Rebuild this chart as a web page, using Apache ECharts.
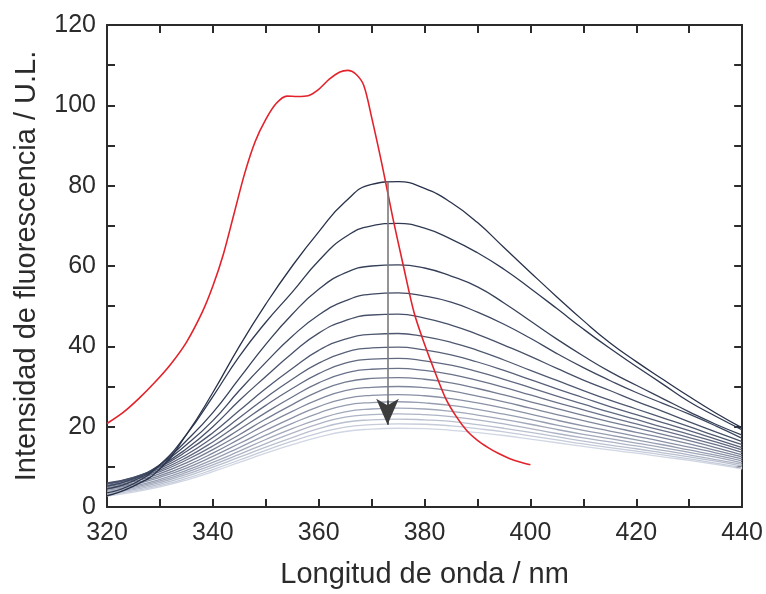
<!DOCTYPE html>
<html>
<head>
<meta charset="utf-8">
<script src="https://cdn.jsdelivr.net/npm/echarts@6/dist/echarts.min.js"></script>
<style>
  html, body { margin: 0; padding: 0; background: #fff; }
  #chart { width: 766px; height: 594px; }
</style>
</head>
<body>
<div id="chart"></div>
<script>
// longitudes de onda comunes a todos los espectros (nm)
const wavelengths = [320, 325, 330, 335, 340, 345, 350, 355, 360, 365, 370, 375, 380,
  385, 390, 395, 400, 405, 410, 415, 420, 425, 430, 435, 440]

// espectros de la valoracion, del mas intenso al menos intenso
const scan01 = [2.8, 5.2, 9.5, 18, 28.5, 40, 50.5, 60, 68.5, 76, 80.3, 81, 79.3, 75.8, 70.8, 64.6, 58.4, 52.3, 46.4, 40.9, 36.2, 31.8, 27.5, 23.4, 19.7]
const scan02 = [3.5, 5.8, 10.5, 18, 27.5, 37.5, 46, 53.5, 61.3, 67.2, 70, 70.6, 69.4, 66.7, 63.3, 59.2, 54.4, 49.4, 44.3, 39.5, 35, 30.6, 26.2, 22.6, 19.2]
const scan03 = [4.5, 6.5, 10.5, 16.5, 23.5, 32, 40.5, 48, 54.2, 58.3, 60, 60.3, 59.5, 57.5, 54.8, 50.8, 46.3, 41.8, 37.6, 33.7, 30.3, 27, 23.7, 20.6, 17.9]
const scan04 = [5.2, 7, 10.5, 15.5, 21.5, 29, 36, 42.5, 47.8, 51.3, 53, 53.3, 52.5, 51, 48.5, 45.5, 42, 38.2, 34.7, 31.5, 28.5, 25.8, 23.1, 20.2, 17.1]
const scan05 = [5.8, 7.3, 10.2, 14.5, 20, 26.5, 32.5, 38.3, 43.3, 46.4, 47.8, 48, 47, 45.3, 43, 40.3, 37.5, 34.5, 31.6, 29, 26.3, 23.8, 21.2, 18.7, 16.3]
const scan06 = [6.0, 7.4, 10, 13.8, 18.5, 24, 29.5, 34.5, 39, 41.8, 43, 43.2, 42.4, 41, 39, 36.6, 34, 31.5, 29, 26.6, 24.4, 22.2, 20, 17.7, 15.5]
const scan07 = [5.9, 7.2, 9.6, 13, 17.3, 22.2, 27.2, 31.8, 35.8, 38.5, 39.6, 39.8, 39.1, 37.9, 36.1, 34, 31.7, 29.4, 27.2, 25, 23, 21, 19, 16.9, 14.8]
const scan08 = [5.7, 7, 9.2, 12.3, 16.2, 20.7, 25.3, 29.5, 33.2, 35.8, 36.8, 37, 36.4, 35.3, 33.7, 31.8, 29.7, 27.6, 25.6, 23.6, 21.8, 19.9, 18.1, 16.2, 14.2]
const scan09 = [5.4, 6.7, 8.8, 11.7, 15.2, 19.3, 23.5, 27.4, 30.9, 33.3, 34.3, 34.5, 34, 33, 31.5, 29.8, 27.9, 26, 24.2, 22.4, 20.7, 19, 17.3, 15.5, 13.6]
const scan10 = [5.1, 6.3, 8.3, 11, 14.3, 18, 21.9, 25.5, 28.8, 31.1, 32, 32.2, 31.8, 30.9, 29.5, 27.9, 26.2, 24.5, 22.8, 21.2, 19.7, 18.1, 16.5, 14.8, 13.0]
const scan11 = [4.8, 5.9, 7.8, 10.3, 13.4, 16.9, 20.5, 23.8, 26.8, 29, 29.8, 30, 29.7, 28.9, 27.6, 26.2, 24.6, 23, 21.5, 20, 18.6, 17.2, 15.7, 14.1, 12.5]
const scan12 = [4.5, 5.6, 7.4, 9.7, 12.6, 15.8, 19.1, 22.2, 25, 27, 27.8, 28, 27.7, 27, 25.9, 24.6, 23.1, 21.6, 20.2, 18.9, 17.6, 16.3, 14.9, 13.5, 12.0]
const scan13 = [4.2, 5.2, 6.9, 9.1, 11.8, 14.8, 17.9, 20.8, 23.4, 25.3, 26, 26.2, 25.9, 25.3, 24.3, 23.1, 21.8, 20.4, 19.1, 17.9, 16.7, 15.5, 14.2, 12.9, 11.5]
const scan14 = [3.9, 4.9, 6.5, 8.6, 11.1, 13.9, 16.8, 19.5, 21.9, 23.7, 24.4, 24.6, 24.4, 23.8, 22.9, 21.8, 20.6, 19.3, 18.1, 17, 15.9, 14.8, 13.6, 12.4, 11.0]
const scan15 = [3.6, 4.6, 6.1, 8.1, 10.5, 13.1, 15.8, 18.4, 20.7, 22.4, 23, 23.2, 23, 22.5, 21.7, 20.7, 19.5, 18.3, 17.2, 16.2, 15.2, 14.1, 13, 11.8, 10.6]
const scan16 = [3.3, 4.3, 5.7, 7.6, 9.9, 12.4, 14.9, 17.3, 19.5, 21.1, 21.7, 21.9, 21.7, 21.3, 20.5, 19.6, 18.6, 17.5, 16.4, 15.4, 14.5, 13.5, 12.5, 11.4, 10.2]
const scan17 = [3.0, 4.0, 5.3, 7.1, 9.3, 11.7, 14.1, 16.4, 18.4, 19.9, 20.5, 20.7, 20.6, 20.2, 19.5, 18.7, 17.7, 16.7, 15.7, 14.8, 13.9, 13, 12, 10.9, 9.8]
const scan18 = [2.7, 3.7, 5, 6.7, 8.8, 11.1, 13.4, 15.5, 17.4, 18.8, 19.4, 19.6, 19.5, 19.1, 18.5, 17.8, 16.9, 16, 15.1, 14.2, 13.4, 12.5, 11.6, 10.6, 9.5]

const scans = [scan01, scan02, scan03, scan04, scan05, scan06, scan07, scan08, scan09,
  scan10, scan11, scan12, scan13, scan14, scan15, scan16, scan17, scan18]

// espectro en rojo (320-400 nm)
const redX = [320, 323, 326, 329, 332, 335, 338, 340, 342, 344, 346, 348, 350, 352, 354, 356,
  358, 360, 362, 364, 365.5, 367, 368.5, 370, 372, 374, 376, 378, 380, 382, 384, 386, 388,
  390, 392, 394, 396, 398, 400]
const redY = [20.8, 23.5, 27, 31, 35.5, 41, 48.5, 55, 63, 73, 83, 91, 96.5, 100.5, 102.3, 102.2,
  102.4, 104, 106.5, 108.3, 108.7, 107.8, 105, 97, 85, 72, 60, 48.5, 40.5, 33.5, 27, 22.5, 19,
  16.6, 14.8, 13.3, 12.1, 11.2, 10.5]

// flecha: posicion y extremos
const arrowX = 373
const arrowFrom = 81
const arrowTo = 20.5

const scanColors = ['#28324b', '#2f3a52', '#364159', '#3e4861', '#465068', '#4e5870',
  '#576078', '#606980', '#6a7289', '#747c92', '#7f879c', '#8a91a6', '#959db0', '#a1a8ba',
  '#adb4c5', '#b9c0cf', '#c5cbd9', '#d0d6e3']

const font = 'Liberation Sans, Arial, sans-serif'
const ink = '#2b2b2b'

function frameAxis(extra) {
  return Object.assign({
    type: 'value',
    interval: 10,
    axisLine: { show: true, onZero: false, lineStyle: { color: ink, width: 2 } },
    axisTick: { show: true, inside: true, length: 8, lineStyle: { color: ink, width: 2 } },
    splitLine: { show: false }
  }, extra)
}

const series = []
// los mas claros primero para que los oscuros queden encima
for (let i = scans.length - 1; i >= 0; i--) {
  series.push({
    type: 'line',
    name: 'scan' + (i + 1),
    data: wavelengths.map((x, j) => [x, scans[i][j]]),
    smooth: 0.5,
    symbol: 'none',
    xAxisIndex: 0,
    yAxisIndex: 0,
    lineStyle: { color: scanColors[i], width: 1.3 },
    z: 2
  })
}
series.push({
  type: 'line',
  name: 'rojo',
  data: redX.map((x, j) => [x, redY[j]]),
  smooth: 0.3,
  symbol: 'none',
  xAxisIndex: 0,
  yAxisIndex: 0,
  lineStyle: { color: '#e3232b', width: 1.6 },
  z: 3,
  markLine: {
    silent: true,
    animation: false,
    label: { show: false },
    emphasis: { disabled: true },
    data: [
      [
        { coord: [arrowX, arrowFrom], symbol: 'none', lineStyle: { color: '#7a7a7a', width: 1.6, type: 'solid' } },
        { coord: [arrowX, arrowTo + 3], symbol: 'none' }
      ],
      [
        { coord: [arrowX, arrowTo + 6], symbol: 'none', lineStyle: { color: '#3c3c3c', width: 1.6, type: 'solid' } },
        { coord: [arrowX, arrowTo], symbol: 'arrow', symbolSize: [17, 26] }
      ]
    ]
  }
})

const chart = echarts.init(document.getElementById('chart'))
chart.setOption({
  animation: false,
  backgroundColor: '#ffffff',
  grid: { left: 107, right: 23, top: 25, bottom: 83 },
  xAxis: [
    frameAxis({
      position: 'bottom',
      min: 320,
      max: 440,
      axisLabel: {
        formatter: v => (v % 20 === 0 ? String(v) : ''),
        fontSize: 25,
        color: ink,
        fontFamily: font,
        margin: 14,
        showMinLabel: true,
        showMaxLabel: true
      },
      name: 'Longitud de onda / nm',
      nameLocation: 'middle',
      nameGap: 53,
      nameTextStyle: { fontSize: 29, color: ink, fontFamily: font }
    }),
    frameAxis({ position: 'top', min: 320, max: 440, axisLabel: { show: false } })
  ],
  yAxis: [
    frameAxis({
      position: 'left',
      min: 0,
      max: 120,
      axisLabel: {
        formatter: v => (v % 20 === 0 ? String(v) : ''),
        fontSize: 25,
        color: ink,
        fontFamily: font,
        margin: 11,
        showMinLabel: true,
        showMaxLabel: true
      },
      name: 'Intensidad de fluorescencia / U.L.',
      nameLocation: 'middle',
      nameRotate: 90,
      nameGap: 66,
      nameTextStyle: { fontSize: 29, color: ink, fontFamily: font }
    }),
    frameAxis({ position: 'right', min: 0, max: 120, axisLabel: { show: false } })
  ],
  series: series
})
</script>
</body>
</html>
